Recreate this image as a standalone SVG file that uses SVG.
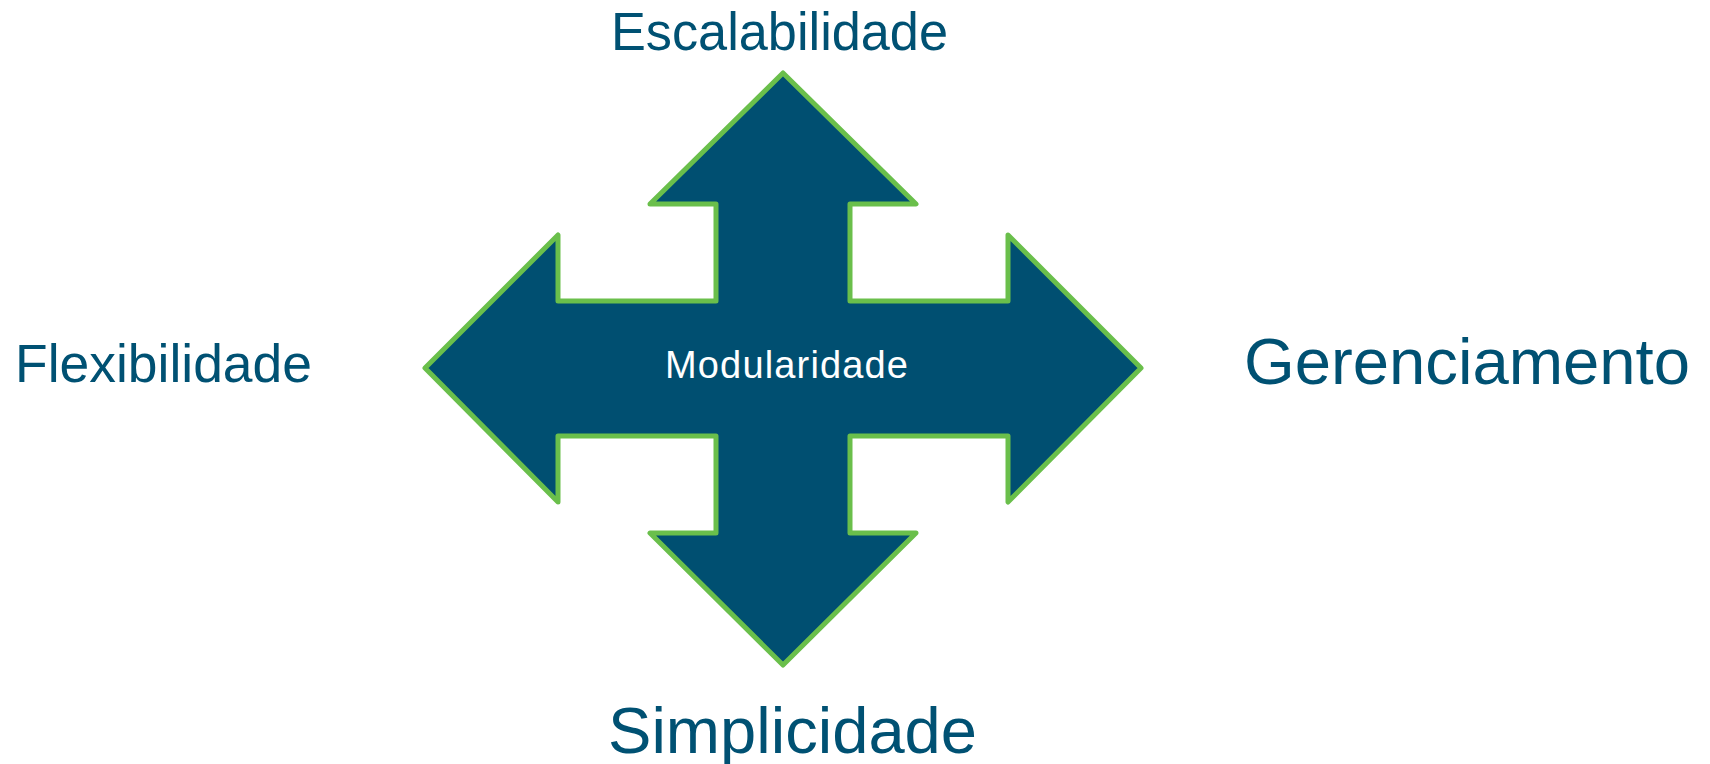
<svg xmlns="http://www.w3.org/2000/svg" width="1710" height="764" viewBox="0 0 1710 764">
  <style>
    .lbl { font-family: "Liberation Sans", Arial, sans-serif; fill: #005173; }
    .arrow { fill: #004F71; stroke: #6ABF4B; stroke-width: 5; stroke-linejoin: round; }
    .center { font-family: "Liberation Sans", Arial, sans-serif; fill: #FFFFFF; font-size: 38px; }
  </style>
  <rect x="0" y="0" width="1710" height="764" fill="#FFFFFF"/>
  <g id="modularidade">
    <path class="arrow" d="M783,73 L916,204 L850,204 L850,301 L1008,301 L1008,235 L1141,368 L1008,502 L1008,436 L850,436 L850,533 L916,533 L783,665 L650,533 L716,533 L716,436 L558,436 L558,502 L425,368 L558,235 L558,301 L716,301 L716,204 L650,204 Z"/>
    <text class="center" x="665" y="378" textLength="243" lengthAdjust="spacing">Modularidade</text>
  </g>
  <g id="escalabilidade">
    <text class="lbl" x="611" y="50" font-size="53" textLength="337" lengthAdjust="spacingAndGlyphs">Escalabilidade</text>
  </g>
  <g id="flexibilidade">
    <text class="lbl" x="15" y="382" font-size="53" textLength="297" lengthAdjust="spacingAndGlyphs">Flexibilidade</text>
  </g>
  <g id="gerenciamento">
    <text class="lbl" x="1244" y="384" font-size="64" textLength="446" lengthAdjust="spacingAndGlyphs">Gerenciamento</text>
  </g>
  <g id="simplicidade">
    <text class="lbl" x="608" y="753" font-size="64" textLength="369" lengthAdjust="spacingAndGlyphs">Simplicidade</text>
  </g>
  <g id="connectors"></g>
</svg>
